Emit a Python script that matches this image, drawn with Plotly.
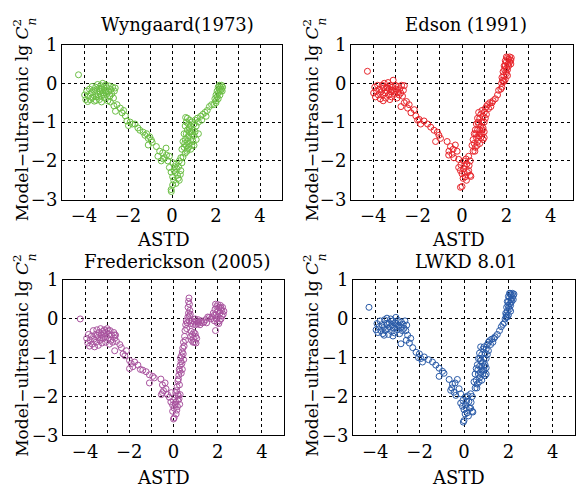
import plotly.graph_objects as go

W, H = 576, 498

panel_titles = ["Wyngaard(1973)", "Edson (1991)", "Frederickson (2005)", "LWKD 8.01"]
panel_colors = ["#6cbf45", "#e8262c", "#a9549f", "#2a5ba8"]
x_tick_vals = [-4, -3, -2, -1, 0, 1, 2, 3, 4]
x_tick_text = ["\u22124", " ", "\u22122", " ", "0", " ", "2", " ", "4"]
y_tick_vals = [-3, -2, -1, 0, 1]
y_tick_text = ["\u22123", "\u22122", "\u22121", "0", "1"]

# (ASTD, model - ultrasonic lg Cn2) pairs
wyngaard = [
    (-4.25, 0.22),
    (-3.97, -0.3), (-3.92, -0.42), (-3.88, -0.2), (-3.83, -0.47), (-3.8, -0.33), (-3.75, -0.15),
    (-3.72, -0.42), (-3.68, -0.25), (-3.63, -0.08), (-3.6, -0.36), (-3.57, -0.18), (-3.53, -0.46),
    (-3.5, -0.27), (-3.47, -0.1), (-3.44, -0.35), (-3.41, -0.2), (-3.38, -0.03), (-3.35, -0.29),
    (-3.32, -0.13), (-3.3, -0.42), (-3.27, -0.22), (-3.24, -0.06), (-3.21, -0.33), (-3.18, -0.15),
    (-3.15, 0.0), (-3.13, -0.25), (-3.1, -0.09), (-3.07, -0.38), (-3.04, -0.18), (-3.01, -0.04),
    (-2.98, -0.28), (-2.95, -0.12), (-2.92, -0.45), (-2.89, -0.22), (-2.85, -0.07), (-2.82, -0.33),
    (-2.78, -0.16), (-2.74, -0.27), (-2.7, -0.1), (-2.66, -0.38), (-2.62, -0.2), (-2.58, -0.12),
    (-3.2, -0.48), (-3.45, -0.44), (-2.8, -0.48), (-3.0, -0.2), (-3.25, -0.15), (-3.1, -0.3),
    (-2.64, -0.58), (-2.5, -0.55), (-2.57, -0.72), (-2.35, -0.64), (-2.27, -0.76), (-2.12, -0.84),
    (-2.2, -0.7), (-2.05, -0.97), (-1.9, -1.0), (-1.98, -1.09), (-1.8, -1.05), (-1.68, -1.05),
    (-1.55, -1.15), (-1.46, -1.21), (-1.31, -1.26), (-1.23, -1.34), (-1.15, -1.3), (-1.08, -1.42),
    (-0.94, -1.46), (-1.01, -1.38), (-1.08, -1.59), (-0.9, -1.52),
    (-0.71, -1.63), (-0.56, -1.75), (-0.64, -1.88), (-0.42, -1.79), (-0.34, -1.92), (-0.19, -2.0),
    (-0.12, -1.88), (-0.49, -2.0), (-0.27, -1.67), (-0.4, -1.95), (-0.25, -1.85),
    (-0.12, -2.17), (-0.04, -2.29), (0.03, -2.41), (0.1, -2.25), (0.18, -2.08), (0.25, -2.37),
    (0.33, -2.5), (0.18, -2.58), (0.03, -2.62), (-0.04, -2.74), (-0.03, -2.79), (0.4, -2.25),
    (0.33, -2.0), (0.4, -1.92), (0.08, -2.5), (0.15, -2.3), (0.22, -2.2), (0.28, -2.45),
    (0.12, -2.15), (0.05, -2.05), (0.3, -2.15), (0.45, -2.05), (0.38, -2.35),
    (0.45, -1.7), (0.5, -1.5), (0.5, -1.9), (0.55, -1.3), (0.55, -1.65), (0.6, -1.1), (0.6, -1.45),
    (0.6, -1.8), (0.65, -1.0), (0.65, -1.3), (0.65, -1.6), (0.7, -0.9), (0.7, -1.2), (0.7, -1.5),
    (0.7, -1.7), (0.75, -1.05), (0.75, -1.35), (0.75, -1.65), (0.8, -0.95), (0.8, -1.25),
    (0.8, -1.55), (0.85, -1.1), (0.85, -1.45), (0.85, -1.7), (0.9, -1.0), (0.9, -1.3), (0.9, -1.6),
    (0.95, -1.2), (0.95, -1.5), (1.0, -1.05), (1.0, -1.35), (1.0, -1.6), (1.05, -0.95),
    (1.05, -1.25), (1.1, -1.1), (1.1, -1.45), (1.15, -0.9), (1.2, -1.0), (1.2, -1.3), (0.62, -0.88),
    (0.72, -1.4), (0.78, -1.15), (0.88, -1.25), (0.58, -1.55), (0.68, -1.75),
    (1.3, -0.85), (1.35, -0.95), (1.4, -0.8), (1.5, -0.75), (1.55, -0.85), (1.6, -0.7), (1.7, -0.6),
    (1.8, -0.55), (1.9, -0.55), (2.0, -0.5), (1.95, -0.4), (2.0, -0.3), (2.05, -0.35), (2.05, -0.2),
    (2.1, -0.25), (2.1, -0.1), (2.15, -0.15), (2.15, -0.05), (2.2, -0.2), (2.2, -0.1), (2.25, -0.15),
    (2.25, -0.05), (2.3, -0.1), (2.1, -0.4), (2.0, -0.45), (2.18, -0.3), (2.28, -0.2),
]

edson = [
    (-4.26, 0.31),
    (-3.98, -0.25), (-3.93, -0.1), (-3.9, -0.35), (-3.85, -0.2), (-3.8, -0.05), (-3.77, -0.3),
    (-3.72, -0.15), (-3.68, -0.4), (-3.65, -0.22), (-3.6, -0.05), (-3.57, -0.3), (-3.53, -0.12),
    (-3.5, 0.0), (-3.47, -0.25), (-3.44, -0.38), (-3.4, -0.1), (-3.37, -0.2), (-3.33, 0.02),
    (-3.3, -0.3), (-3.27, -0.15), (-3.23, -0.05), (-3.2, -0.22), (-3.17, -0.35), (-3.13, -0.1),
    (-3.1, 0.08), (-3.07, -0.2), (-3.03, -0.28), (-3.0, -0.05), (-2.97, -0.15), (-2.93, -0.38),
    (-2.9, -0.22), (-2.87, -0.08), (-2.83, -0.3), (-2.8, -0.14), (-2.76, -0.25), (-2.72, -0.05),
    (-2.68, -0.33), (-2.64, -0.18), (-2.6, -0.06), (-3.25, -0.42), (-3.55, -0.45), (-3.15, -0.18),
    (-3.35, -0.12),
    (-2.75, -0.6), (-2.5, -0.47), (-2.45, -0.64), (-2.3, -0.76), (-2.15, -0.68), (-2.08, -0.84),
    (-1.93, -0.93), (-1.86, -1.05), (-1.71, -0.97), (-1.55, -1.05), (-1.41, -1.13), (-1.26, -1.21),
    (-1.11, -1.26), (-1.04, -1.34), (-1.19, -1.5), (-0.97, -1.42), (-2.6, -0.5), (-2.38, -0.55),
    (-2.0, -0.95),
    (-0.67, -1.5), (-0.52, -1.63), (-0.59, -1.75), (-0.45, -1.83), (-0.37, -1.92), (-0.3, -1.59),
    (-0.22, -1.75), (-0.15, -1.96), (-0.6, -1.85), (-0.4, -1.7),
    (-0.15, -2.17), (-0.07, -2.25), (0.0, -2.33), (0.07, -2.2), (0.15, -2.41), (0.22, -2.08),
    (0.3, -2.25), (0.37, -2.37), (0.0, -2.66), (-0.07, -2.68), (0.07, -2.0), (0.3, -1.88),
    (0.37, -2.0), (0.1, -2.3), (0.2, -2.5), (0.25, -2.3), (-0.05, -2.1), (0.12, -2.12),
    (0.32, -2.12), (0.4, -2.4), (0.18, -1.95), (0.05, -2.45),
    (0.45, -1.6), (0.5, -1.75), (0.5, -1.45), (0.55, -1.3), (0.55, -1.55), (0.6, -1.2), (0.6, -1.65),
    (0.65, -1.05), (0.65, -1.4), (0.7, -0.9), (0.7, -1.2), (0.7, -1.5), (0.75, -0.75), (0.75, -1.05),
    (0.75, -1.35), (0.8, -0.9), (0.8, -1.2), (0.8, -1.55), (0.85, -0.8), (0.85, -1.1), (0.85, -1.4),
    (0.9, -0.7), (0.9, -1.0), (0.9, -1.3), (0.95, -0.85), (0.95, -1.15), (1.0, -0.75), (1.0, -1.0),
    (1.0, -1.4), (1.05, -0.65), (1.05, -0.9), (1.1, -0.6), (1.1, -0.8), (1.15, -0.55), (1.2, -0.65),
    (1.25, -0.5), (1.3, -0.6), (1.35, -0.5), (1.4, -0.45), (1.5, -0.4), (1.6, -0.3), (1.65, -0.18),
    (1.75, -0.15), (1.8, -0.1), (0.62, -1.3), (0.72, -1.0), (0.82, -1.3), (0.92, -1.2),
    (0.58, -1.75), (0.68, -1.6), (1.0, -1.25), (0.95, -1.45),
    (1.78, 0.0), (1.85, 0.05), (1.8, 0.15), (1.88, 0.2), (1.95, 0.1), (1.85, 0.3), (1.92, 0.35),
    (2.0, 0.25), (1.95, 0.45), (2.02, 0.4), (2.08, 0.5), (2.0, 0.55), (2.1, 0.62), (2.15, 0.55),
    (2.15, 0.68), (2.2, 0.6), (2.2, 0.5), (2.05, 0.35), (2.05, 0.2), (1.95, 0.58), (2.05, 0.66),
    (2.22, 0.66), (1.9, 0.45), (1.9, 0.05), (2.1, 0.45), (2.0, 0.68), (1.98, 0.3), (1.82, 0.08),
]

frederickson = [
    (-4.22, 0.0),
    (-3.93, -0.5), (-3.88, -0.62), (-3.85, -0.4), (-3.8, -0.7), (-3.77, -0.55), (-3.72, -0.45),
    (-3.68, -0.65), (-3.63, -0.3), (-3.6, -0.52), (-3.57, -0.72), (-3.53, -0.4), (-3.5, -0.6),
    (-3.47, -0.28), (-3.43, -0.48), (-3.4, -0.68), (-3.37, -0.35), (-3.33, -0.55), (-3.3, -0.25),
    (-3.27, -0.42), (-3.23, -0.62), (-3.2, -0.32), (-3.17, -0.5), (-3.13, -0.28), (-3.1, -0.45),
    (-3.07, -0.6), (-3.03, -0.35), (-3.0, -0.25), (-2.97, -0.5), (-2.93, -0.4), (-2.9, -0.65),
    (-2.87, -0.3), (-2.83, -0.55), (-2.8, -0.42), (-2.75, -0.6), (-2.7, -0.35), (-2.66, -0.5),
    (-2.62, -0.42), (-3.45, -0.42), (-3.15, -0.38), (-3.25, -0.5), (-2.95, -0.3),
    (-2.66, -0.41), (-2.58, -0.58), (-2.66, -0.82), (-2.43, -0.66), (-2.36, -0.74), (-2.28, -0.9),
    (-2.13, -0.82), (-1.99, -1.07), (-1.91, -1.15), (-1.84, -1.23), (-1.99, -1.28), (-1.76, -1.11),
    (-1.61, -1.19), (-1.39, -1.32), (-1.24, -1.36), (-1.09, -1.44), (-0.94, -1.48), (-0.87, -1.52),
    (-1.09, -1.65), (-2.2, -0.95), (-1.5, -1.3),
    (-0.57, -1.55), (-0.5, -1.7), (-0.45, -1.85), (-0.55, -1.95), (-0.34, -1.8), (-0.27, -1.95),
    (-0.19, -2.02), (-0.38, -1.65), (-0.5, -1.9),
    (-0.12, -2.14), (-0.04, -2.22), (0.03, -2.3), (0.1, -2.14), (0.18, -2.26), (0.25, -2.06),
    (0.03, -2.55), (0.0, -2.58), (-0.04, -2.38), (0.3, -1.95), (0.08, -2.2), (0.15, -2.35),
    (0.2, -2.1), (0.0, -2.1), (0.12, -2.45), (0.28, -2.2), (0.22, -1.98), (-0.1, -1.9),
    (0.1, -1.9), (0.16, -1.75), (0.2, -1.6), (0.24, -1.45), (0.28, -1.35), (0.3, -1.2), (0.34, -1.1),
    (0.36, -0.95), (0.4, -0.85), (0.42, -0.75), (0.45, -0.6), (0.5, -0.45), (0.52, -0.3),
    (0.55, -0.15), (0.58, -0.05), (0.14, -1.85), (0.22, -1.55), (0.26, -1.3), (0.32, -1.0),
    (0.38, -1.15), (0.44, -0.9), (0.48, -0.7), (0.54, -0.55), (0.6, -0.25), (0.2, -1.95),
    (0.27, -1.7), (0.35, -1.4), (0.4, -1.3), (0.46, -1.05),
    (0.7, 0.54), (0.68, 0.45), (0.72, 0.38), (0.66, 0.3), (0.74, 0.22), (0.68, 0.15), (0.72, 0.08),
    (0.65, 0.05), (0.76, 0.12),
    (0.8, -0.32), (0.85, -0.4), (0.9, -0.5), (0.95, -0.6), (1.0, -0.45), (0.82, -0.55),
    (0.92, -0.35), (1.02, -0.62), (0.88, -0.6), (0.98, -0.38), (0.78, -0.45), (1.05, -0.5),
    (0.62, -0.1), (0.7, -0.05), (0.78, -0.12), (0.85, -0.05), (0.9, -0.14), (0.95, -0.08),
    (1.0, -0.15), (1.05, -0.05), (1.1, -0.12), (1.15, -0.08), (1.2, -0.15), (1.25, -0.05),
    (1.3, -0.1), (1.38, -0.08), (1.45, -0.02), (1.5, -0.1), (0.98, 0.0), (1.12, -0.02),
    (1.55, 0.05), (1.62, 0.04), (1.7, 0.0), (1.9, -0.3),
    (1.75, 0.05), (1.8, 0.15), (1.85, -0.05), (1.88, 0.25), (1.92, 0.1), (1.95, 0.32), (1.98, -0.1),
    (2.0, 0.2), (2.02, 0.05), (2.05, 0.3), (2.08, -0.05), (2.1, 0.15), (2.12, 0.35), (2.15, 0.0),
    (2.18, 0.22), (2.2, 0.08), (2.22, 0.3), (2.25, 0.12), (1.9, 0.38), (2.0, 0.37), (1.85, 0.1),
    (2.15, 0.28), (2.05, -0.12), (1.95, 0.0), (2.28, 0.2),
]

lwkd = [
    (-4.28, 0.3),
    (-3.96, -0.28), (-3.92, -0.12), (-3.88, -0.35), (-3.83, -0.2), (-3.78, -0.05), (-3.75, -0.3),
    (-3.7, -0.15), (-3.66, -0.38), (-3.62, -0.22), (-3.58, -0.02), (-3.55, -0.3), (-3.5, -0.12),
    (-3.47, 0.02), (-3.44, -0.25), (-3.4, -0.4), (-3.37, -0.1), (-3.33, -0.2), (-3.3, 0.0),
    (-3.27, -0.32), (-3.23, -0.15), (-3.2, -0.05), (-3.17, -0.24), (-3.13, -0.36), (-3.1, -0.1),
    (-3.07, 0.04), (-3.03, -0.2), (-3.0, -0.28), (-2.97, -0.04), (-2.93, -0.16), (-2.9, -0.38),
    (-2.86, -0.22), (-2.82, -0.08), (-2.78, -0.3), (-2.74, -0.14), (-2.7, -0.24), (-2.66, -0.05),
    (-2.62, -0.3), (-2.58, -0.16), (-2.54, -0.42), (-3.6, -0.42), (-3.2, -0.44), (-3.45, -0.15),
    (-3.05, -0.12),
    (-2.84, -0.64), (-2.46, -0.62), (-2.31, -0.74), (-2.16, -0.86), (-2.01, -0.9), (-1.94, -1.02),
    (-1.87, -1.11), (-1.79, -0.98), (-1.6, -1.05), (-1.42, -1.11), (-1.27, -1.19), (-1.12, -1.27),
    (-0.97, -1.35), (-1.12, -1.48), (-0.9, -1.4), (-2.4, -0.5), (-2.6, -0.55), (-2.05, -1.0),
    (-0.67, -1.56), (-0.52, -1.68), (-0.6, -1.84), (-0.45, -1.89), (-0.37, -1.97), (-0.3, -1.56),
    (-0.22, -1.8), (-0.15, -1.93), (-0.55, -1.78), (-0.4, -1.65),
    (-0.15, -2.17), (-0.07, -2.25), (0.0, -2.34), (0.07, -2.21), (0.15, -2.42), (0.22, -2.13),
    (0.3, -2.3), (0.37, -2.38), (0.0, -2.62), (-0.03, -2.66), (0.07, -2.01), (0.3, -1.93),
    (0.37, -2.0), (0.1, -2.3), (0.2, -2.5), (0.25, -2.3), (-0.05, -2.1), (0.12, -2.12),
    (0.32, -2.15), (0.18, -1.98), (0.05, -2.45), (0.4, -2.4),
    (0.45, -1.62), (0.5, -1.78), (0.5, -1.42), (0.55, -1.28), (0.55, -1.58), (0.6, -1.18),
    (0.6, -1.68), (0.65, -1.02), (0.65, -1.42), (0.7, -0.88), (0.7, -1.22), (0.7, -1.52),
    (0.75, -0.72), (0.75, -1.08), (0.75, -1.38), (0.8, -0.92), (0.8, -1.22), (0.8, -1.58),
    (0.85, -0.78), (0.85, -1.12), (0.85, -1.42), (0.9, -0.72), (0.9, -1.02), (0.9, -1.32),
    (0.95, -0.88), (0.95, -1.18), (1.0, -0.78), (1.0, -1.02), (1.0, -1.42), (1.05, -0.66),
    (1.05, -0.92), (1.1, -0.6), (1.1, -0.82), (1.15, -0.56), (1.2, -0.66), (1.25, -0.52),
    (1.3, -0.6), (1.35, -0.5), (1.4, -0.46), (1.5, -0.4), (1.6, -0.3), (1.68, -0.2), (1.75, -0.14),
    (1.82, -0.1), (0.62, -1.32), (0.72, -1.02), (0.82, -1.32), (0.92, -1.22), (0.58, -1.78),
    (0.68, -1.62), (1.0, -1.26), (0.95, -1.46),
    (1.85, 0.0), (1.9, 0.05), (1.88, 0.15), (1.95, 0.2), (2.0, 0.1), (1.92, 0.3), (1.98, 0.35),
    (2.05, 0.25), (2.0, 0.45), (2.08, 0.4), (2.12, 0.5), (2.05, 0.55), (2.12, 0.62), (2.18, 0.55),
    (2.18, 0.66), (2.22, 0.6), (2.22, 0.5), (2.1, 0.35), (2.1, 0.2), (2.0, 0.58), (2.08, 0.66),
    (2.25, 0.64), (1.95, 0.45), (1.95, 0.05), (2.15, 0.45), (2.05, 0.66), (2.02, 0.3), (1.9, 0.1),
]

panels_data = [wyngaard, edson, frederickson, lwkd]

# layout geometry (pixels)
px_x = [(62, 282), (351, 573), (63, 284), (353, 575)]
px_y = [(35, 197), (35, 197), (281, 443), (281, 443)]
title_pos = [(177, 14), (466, 14), (177, 262), (466, 262)]
xlab_pos = [(163, 239), (458, 239), (163, 487), (458, 487)]
ylab_x = [21, 311, 21, 311]

FONT = "DejaVu Serif"

fig = go.Figure()
annotations = []
for i, data in enumerate(panels_data):
    n = "" if i == 0 else str(i + 1)
    xs = [p[0] for p in data]
    ys = [p[1] for p in data]
    fig.add_trace(go.Scatter(
        x=xs, y=ys, mode="markers", xaxis="x" + n, yaxis="y" + n,
        marker=dict(symbol="circle-open", size=6, color=panel_colors[i], line=dict(width=1)),
        showlegend=False, cliponaxis=True,
    ))
    x0, x1 = px_x[i]
    yt, yb = px_y[i]
    common = dict(showline=True, linecolor="black", linewidth=1, mirror=True,
                  showgrid=True, gridcolor="black", gridwidth=1, griddash="3px,3px",
                  zeroline=False, ticks="", tickfont=dict(family=FONT, size=18, color="black"))
    fig.update_layout(**{
        "xaxis" + n: dict(domain=[x0 / W, x1 / W], range=[-5, 5], anchor="y" + n,
                          tickmode="array", tickvals=x_tick_vals, ticktext=x_tick_text, **common),
        "yaxis" + n: dict(domain=[1 - yb / H, 1 - yt / H], range=[-3, 1], anchor="x" + n,
                          tickmode="array", tickvals=y_tick_vals, ticktext=y_tick_text, **common),
    })
    tx, ty = title_pos[i]
    annotations.append(dict(text=panel_titles[i], x=tx / W, y=1 - ty / H, xref="paper", yref="paper",
                            showarrow=False, xanchor="center", yanchor="middle",
                            font=dict(family=FONT, size=18, color="black")))
    lx, ly = xlab_pos[i]
    annotations.append(dict(text="ASTD", x=lx / W, y=1 - ly / H, xref="paper", yref="paper",
                            showarrow=False, xanchor="center", yanchor="middle",
                            font=dict(family=FONT, size=18, color="black")))
    cy = (yt + yb) / 2 - 2
    annotations.append(dict(text="Model\u2212ultrasonic lg <i>C</i><sup>2</sup>", x=ylab_x[i] / W,
                            y=1 - cy / H, xref="paper", yref="paper", textangle=-90,
                            showarrow=False, xanchor="center", yanchor="middle",
                            font=dict(family=FONT, size=17, color="black")))
    annotations.append(dict(text="<i>n</i>", x=(ylab_x[i] + 11) / W, y=1 - (yt - 24) / H,
                            xref="paper", yref="paper", textangle=-90,
                            showarrow=False, xanchor="center", yanchor="middle",
                            font=dict(family=FONT, size=12, color="black")))

fig.update_layout(width=W, height=H, margin=dict(l=0, r=0, t=0, b=0),
                  paper_bgcolor="white", plot_bgcolor="white", annotations=annotations)
fig.write_html("out.html")
